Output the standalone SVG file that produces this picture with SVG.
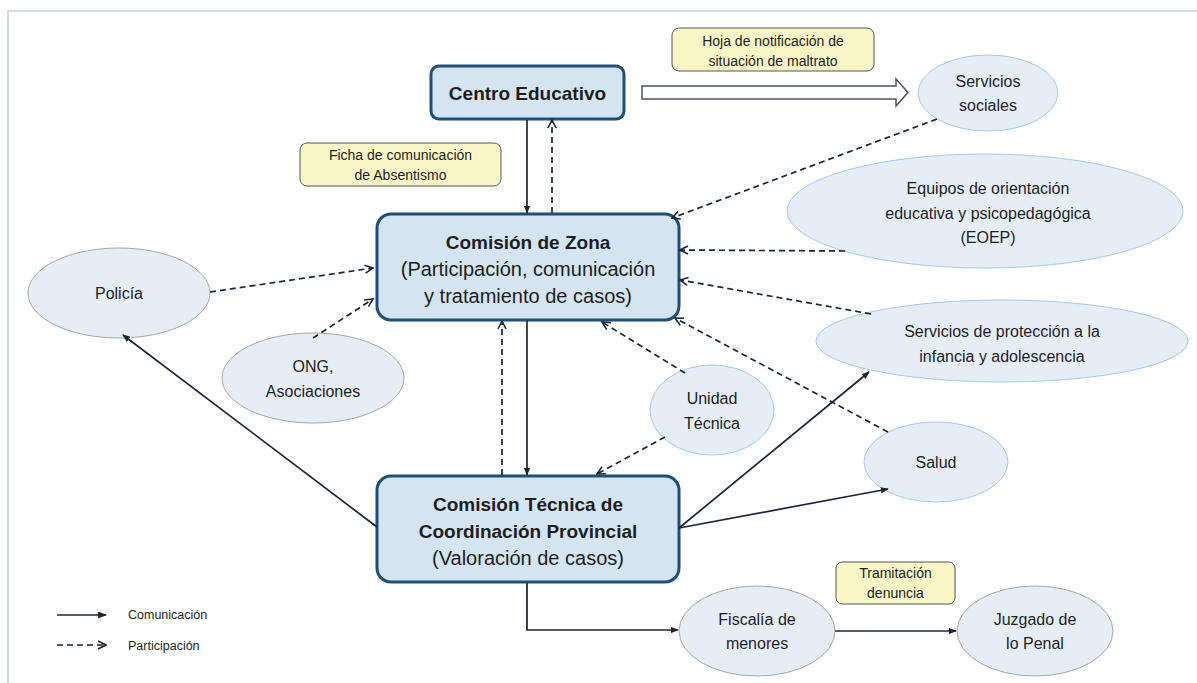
<svg xmlns="http://www.w3.org/2000/svg" width="1197" height="683" viewBox="0 0 1197 683">
<defs>
<style>
text{font-family:"Liberation Sans",Arial,sans-serif;fill:#1e1e1e;text-anchor:middle;dominant-baseline:central}
.box{fill:#d4e4f1;stroke:#1f4e79;stroke-width:3}
.ell{fill:#e5eef7;stroke:#a8c8e8;stroke-width:1}
.ellg{fill:#e5eef7;stroke:#a6a6a6;stroke-width:1}
.note{fill:#f8f6c6;stroke:#555;stroke-width:1}
.b{font-weight:bold;font-size:19px}
.r{font-size:20px}
.e{font-size:16px}
.n{font-size:14px}
.sol{fill:none;stroke:#1b2637;stroke-width:1.7;marker-end:url(#ah)}
.das{fill:none;stroke:#1b2637;stroke-width:1.7;stroke-dasharray:6 4;marker-end:url(#oh)}
</style>
<marker id="ah" viewBox="0 0 10 8" refX="9" refY="4" markerWidth="8" markerHeight="6.4" orient="auto" markerUnits="userSpaceOnUse">
<path d="M0,0 L10,4 L0,8 z" fill="#1b2637"/>
</marker>
<marker id="ah2" viewBox="0 0 10 8" refX="9" refY="4" markerWidth="9" markerHeight="7" orient="auto" markerUnits="userSpaceOnUse">
<path d="M0,0 L10,4 L0,8 z" fill="#1b2637"/>
</marker>
<marker id="oh" viewBox="0 0 10 10" refX="9" refY="5" markerWidth="10" markerHeight="10" orient="auto" markerUnits="userSpaceOnUse">
<path d="M1,1 L9,5 L1,9" fill="none" stroke="#1b2637" stroke-width="1.6"/>
</marker>
</defs>
<rect width="1197" height="683" fill="#fff"/>
<path d="M8,683 V11 H1197" fill="none" stroke="#c3cee0" stroke-width="1.5"/>

<g id="centro-educativo">
<rect class="box" x="431" y="66" width="193" height="53" rx="8"/>
<text class="b" x="527.5" y="93">Centro Educativo</text>
</g>
<g id="comision-zona">
<rect class="box" x="377" y="214" width="302" height="106" rx="14"/>
<text class="b" x="528" y="242">Comisión de Zona</text>
<text class="r" x="528" y="269">(Participación, comunicación</text>
<text class="r" x="528" y="296">y tratamiento de casos)</text>
</g>
<g id="comision-tecnica">
<rect class="box" x="377" y="476" width="302" height="106" rx="14"/>
<text class="b" x="528" y="504">Comisión Técnica de</text>
<text class="b" x="528" y="531">Coordinación Provincial</text>
<text class="r" x="528" y="558">(Valoración de casos)</text>
</g>

<g id="hoja-notificacion">
<rect class="note" x="672" y="28" width="202" height="43" rx="7"/>
<text class="n" x="773" y="41">Hoja de notificación de</text>
<text class="n" x="773" y="61">situación de maltrato</text>
</g>
<g id="ficha-comunicacion">
<rect class="note" x="300" y="143" width="201" height="43" rx="7"/>
<text class="n" x="400.5" y="155">Ficha de comunicación</text>
<text class="n" x="400.5" y="175">de Absentismo</text>
</g>
<g id="tramitacion-denuncia">
<rect class="note" x="836" y="562" width="119" height="42" rx="6"/>
<text class="n" x="895.5" y="573">Tramitación</text>
<text class="n" x="895.5" y="593">denuncia</text>
</g>

<g id="servicios-sociales">
<ellipse class="ell" cx="988" cy="93" rx="70" ry="38"/>
<text class="e" x="988" y="81">Servicios</text>
<text class="e" x="988" y="105">sociales</text>
</g>
<g id="equipos-orientacion">
<ellipse class="ell" cx="985" cy="211" rx="198" ry="57"/>
<text class="e" x="988" y="188">Equipos de orientación</text>
<text class="e" x="988" y="213">educativa y psicopedagógica</text>
<text class="e" x="988" y="237">(EOEP)</text>
</g>
<g id="servicios-proteccion">
<ellipse class="ell" cx="1002" cy="341" rx="186" ry="41"/>
<text class="e" x="1002" y="331">Servicios de protección a la</text>
<text class="e" x="1002" y="356">infancia y adolescencia</text>
</g>
<g id="salud">
<ellipse class="ell" cx="936" cy="462" rx="72" ry="40"/>
<text class="e" x="936" y="462">Salud</text>
</g>
<g id="unidad-tecnica">
<ellipse class="ell" cx="712" cy="410" rx="62" ry="45"/>
<text class="e" x="712" y="398">Unidad</text>
<text class="e" x="712" y="423">Técnica</text>
</g>
<g id="policia">
<ellipse class="ellg" cx="119" cy="293" rx="91" ry="45"/>
<text class="e" x="119" y="293">Policía</text>
</g>
<g id="ong">
<ellipse class="ellg" cx="313" cy="378" rx="91" ry="45"/>
<text class="e" x="313" y="366">ONG,</text>
<text class="e" x="313" y="391">Asociaciones</text>
</g>
<g id="fiscalia">
<ellipse class="ellg" cx="757" cy="631" rx="78" ry="45"/>
<text class="e" x="757" y="619">Fiscalía de</text>
<text class="e" x="757" y="643">menores</text>
</g>
<g id="juzgado">
<ellipse class="ellg" cx="1035" cy="631" rx="78" ry="45"/>
<text class="e" x="1035" y="619">Juzgado de</text>
<text class="e" x="1035" y="643">lo Penal</text>
</g>

<g id="connectors">
<line class="sol" x1="527" y1="120" x2="527" y2="213"/>
<line class="das" x1="552" y1="213" x2="552" y2="120"/>
<polygon points="642,86 896,86 896,79 908,92.5 896,106 896,99 642,99" fill="#fff" stroke="#4a5560" stroke-width="1.5"/>
<line class="das" x1="937" y1="119" x2="672" y2="218"/>
<line class="das" x1="845" y1="251" x2="680" y2="250"/>
<line class="das" x1="871" y1="314" x2="680" y2="280"/>
<line class="das" x1="888" y1="432" x2="675" y2="318"/>
<line class="das" x1="685" y1="373" x2="602" y2="322"/>
<line class="das" x1="665" y1="437" x2="597" y2="474"/>
<line class="das" x1="210" y1="292" x2="373" y2="268"/>
<line class="das" x1="313" y1="338" x2="373" y2="299"/>
<line class="das" x1="502" y1="475" x2="502" y2="321"/>
<line class="sol" x1="527" y1="321" x2="527" y2="475"/>
<line class="sol" x1="377" y1="527" x2="123" y2="335"/>
<line class="sol" x1="679" y1="528" x2="869" y2="372"/>
<line class="sol" x1="679" y1="528" x2="888" y2="489"/>
<polyline class="sol" points="527,583 527,630 678,630"/>
<line class="sol" x1="835" y1="631" x2="956" y2="631"/>
</g>

<g id="legend">
<line x1="57" y1="615" x2="106" y2="615" stroke="#1b2637" stroke-width="1.7" marker-end="url(#ah2)"/>
<line x1="57" y1="645" x2="106" y2="645" stroke="#1b2637" stroke-width="1.7" stroke-dasharray="6 4" marker-end="url(#oh)"/>
<text x="128" y="615" style="font-size:12.5px;text-anchor:start">Comunicación</text>
<text x="128" y="646" style="font-size:12.5px;text-anchor:start">Participación</text>
</g>
</svg>
